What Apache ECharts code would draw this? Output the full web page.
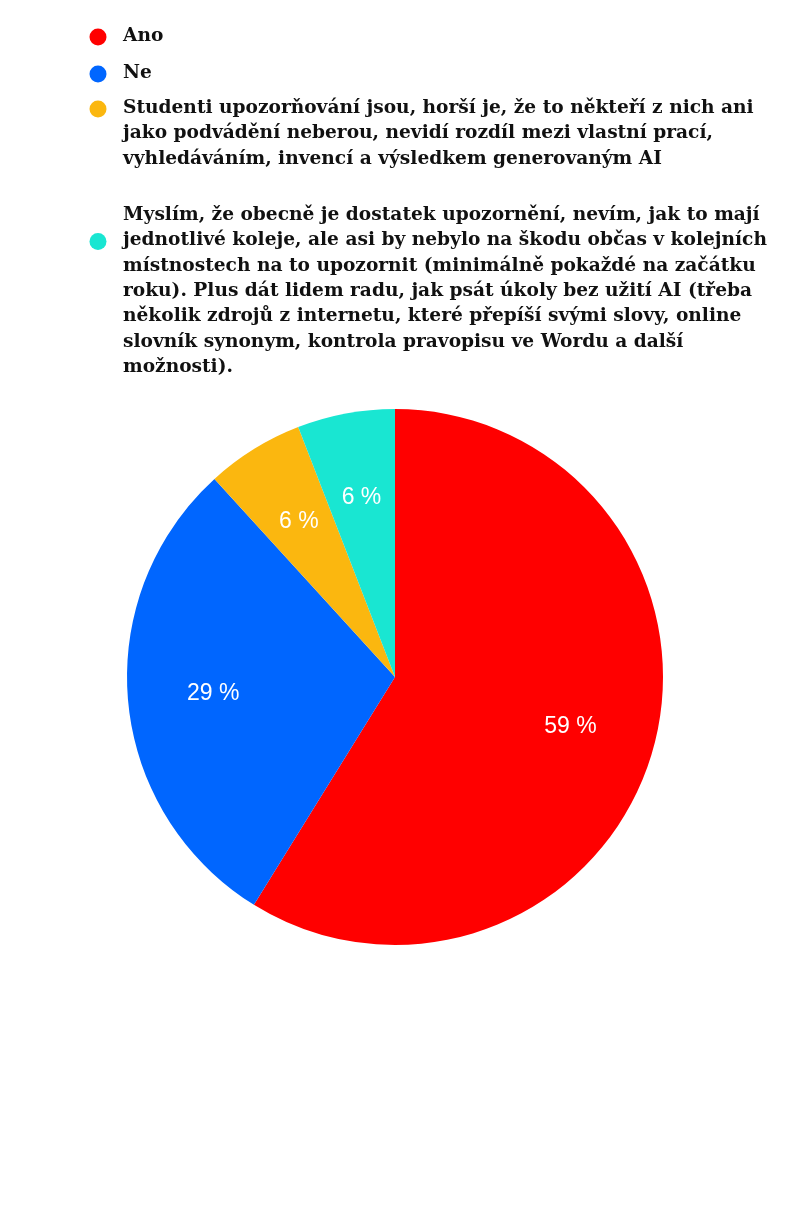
<!DOCTYPE html>
<html><head><meta charset="utf-8">
<script src="https://cdn.jsdelivr.net/npm/echarts@6/dist/echarts.min.js"></script>
<style>html,body{margin:0;padding:0;background:#fff}#c{width:794px;height:1208px}</style>
</head><body><div id="c"></div>
<script>
const categories = [
  "Ano",
  "Ne",
  "Studenti upozorňování jsou, horší je, že to někteří z nich ani\njako podvádění neberou, nevidí rozdíl mezi vlastní prací,\nvyhledáváním, invencí a výsledkem generovaným AI",
  "Myslím, že obecně je dostatek upozornění, nevím, jak to mají\njednotlivé koleje, ale asi by nebylo na škodu občas v kolejních\nmístnostech na to upozornit (minimálně pokaždé na začátku\nroku). Plus dát lidem radu, jak psát úkoly bez užití AI (třeba\nněkolik zdrojů z internetu, které přepíší svými slovy, online\nslovník synonym, kontrola pravopisu ve Wordu a další\nmožnosti)."
];
const values = [10, 5, 1, 1];
const colors = ["#FF0000", "#0066FF", "#FBB70F", "#19E6D2"];

const chart = echarts.init(document.getElementById('c'), null, {renderer: 'canvas'});
const data = categories.map((n, i) => ({name: n, value: values[i], itemStyle: {color: colors[i]}}));

const legendTop = [35, 72, 107, 214];
const markerLine = [0, 0, 0, 1];
const LH = 25.4;
const graphics = [];
categories.forEach((n, i) => {
  graphics.push({type: 'circle', shape: {cx: 98, cy: legendTop[i] + markerLine[i] * LH + 2, r: 8.5}, style: {fill: colors[i]}});
  graphics.push({type: 'text', x: 123, y: legendTop[i] - LH / 2 + 1, style: {
    text: n, font: 'bold 18.6px "DejaVu Serif", serif', fill: '#111', lineHeight: LH,
    textVerticalAlign: 'top', textAlign: 'left'
  }});
});

chart.setOption({
  animation: false,
  graphic: graphics,
  series: [
    {
      type: 'pie', center: [395, 677], radius: 268, startAngle: 90, clockwise: true,
      label: {show: false}, labelLine: {show: false}, silent: true,
      data: data
    },
    {
      type: 'pie', center: [395, 677], radius: [91, 268], startAngle: 90, clockwise: true,
      silent: true,
      label: {show: true, position: 'inside', color: '#fff', fontSize: 23,
        fontFamily: '"Liberation Sans", Arial, sans-serif',
        formatter: p => Math.round(p.percent) + ' %'},
      labelLine: {show: false},
      data: categories.map((n, i) => ({name: n, value: values[i], itemStyle: {color: 'rgba(0,0,0,0)'}}))
    }
  ]
});
</script></body></html>
